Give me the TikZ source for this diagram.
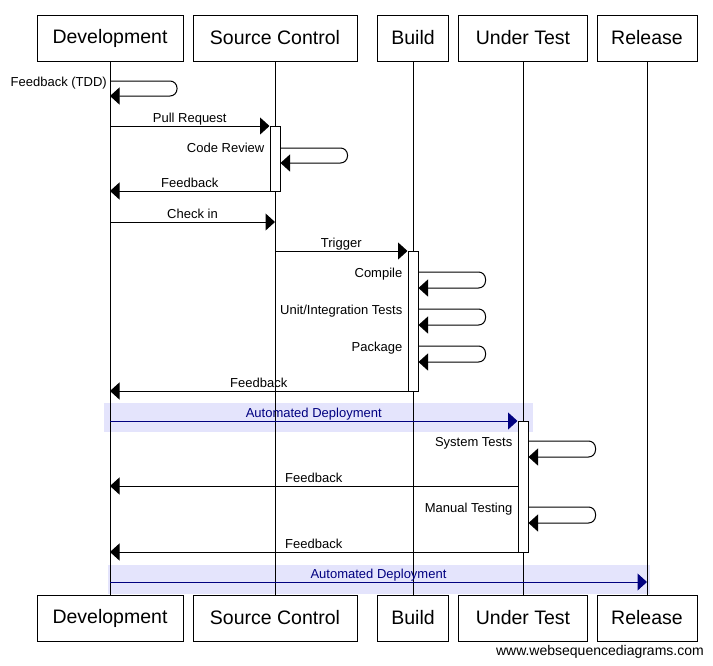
\documentclass[tikz,border=0pt]{standalone}
\usepackage{fontspec}
\setmainfont{Liberation Sans}
\usetikzlibrary{arrows.meta}
\definecolor{hl}{RGB}{228,228,252}
\definecolor{navyc}{RGB}{0,0,128}
\begin{document}
\begin{tikzpicture}[x=1pt,y=-1pt,
  actor/.style={draw,line width=1pt,minimum height=46pt,inner sep=0pt,font=\fontsize{19.5}{23}\selectfont},
  life/.style={line width=1pt},
  msg/.style={line width=1pt,-{Triangle[length=9.5pt,width=17pt]}},
  navymsg/.style={msg,draw=navyc,-{Triangle[length=9.5pt,width=17pt,fill=navyc]}},
  loopmsg/.style={msg,rounded corners=7pt},
  lbl/.style={font=\fontsize{13}{15}\selectfont,inner sep=0pt},
  navylbl/.style={lbl,text=navyc},
  actbar/.style={draw,fill=white,line width=1pt,minimum width=10pt,inner sep=0pt,anchor=north}
]
\useasboundingbox (0,0) rectangle (713,665);
% highlight bands
\fill[hl] (104,403) rectangle (533,432);
\fill[hl] (108,565) rectangle (650,594);
% actors
\node[actor,minimum width=146pt] (devT) at (110,38) {Development};
\node[actor,minimum width=164pt] (scT) at (275,38) {Source Control};
\node[actor,minimum width=71pt] (bT) at (413,38) {Build};
\node[actor,minimum width=129pt] (uT) at (523,38) {Under Test};
\node[actor,minimum width=100pt] (rT) at (647,38) {Release};
\node[actor,minimum width=146pt] (devB) at (110,618) {Development};
\node[actor,minimum width=164pt] (scB) at (275,618) {Source Control};
\node[actor,minimum width=71pt] (bB) at (413,618) {Build};
\node[actor,minimum width=129pt] (uB) at (523,618) {Under Test};
\node[actor,minimum width=100pt] (rB) at (647,618) {Release};
% lifelines
\draw[life] (devT.south) -- (devB.north);
\draw[life] (scT.south) -- (scB.north);
\draw[life] (bT.south) -- (bB.north);
\draw[life] (uT.south) -- (uB.north);
\draw[life] (rT.south) -- (rB.north);
% activation bars
\node[actbar,minimum height=65pt] (scbar) at (275,126) {};
\node[actbar,minimum height=140pt] (bbar) at (413,251) {};
\node[actbar,minimum height=131pt] (ubar) at (523,421) {};
% messages
\draw[loopmsg] (devT.south |- 0,81) -- ++(67,0) |- (devT.south |- 0,96);
\node[lbl,anchor=base east] (l1) at (107,86) {Feedback (TDD)};

\draw[msg] (devT.south |- 0,126) -- (scbar.west |- 0,126)
  node[lbl,midway,anchor=base,yshift=3.5pt] (l2) {Pull Request};

\draw[loopmsg] (scbar.east |- 0,148) -- ++(67,0) |- (scbar.east |- 0,163);
\node[lbl,anchor=base east] (l3) at ([xshift=-5pt]scbar.west |- 0,152) {Code Review};

\draw[msg] (scbar.west |- 0,191) -- (devT.south |- 0,191)
  node[lbl,midway,anchor=base,yshift=3.5pt] (l4) {Feedback};

\draw[msg] (devT.south |- 0,222) -- (scT.south |- 0,222)
  node[lbl,midway,anchor=base,yshift=3.5pt] (l5) {Check in};

\draw[msg] (scT.south |- 0,251) -- (bbar.west |- 0,251)
  node[lbl,midway,anchor=base,yshift=3.5pt] (l6) {Trigger};

\draw[loopmsg] (bbar.east |- 0,272) -- ++(67,0) |- (bbar.east |- 0,288);
\node[lbl,anchor=base east] (l7) at ([xshift=-5pt]bbar.west |- 0,277) {Compile};

\draw[loopmsg] (bbar.east |- 0,309) -- ++(67,0) |- (bbar.east |- 0,325);
\node[lbl,anchor=base east] (l8) at ([xshift=-5pt]bbar.west |- 0,314) {Unit/Integration Tests};

\draw[loopmsg] (bbar.east |- 0,346) -- ++(67,0) |- (bbar.east |- 0,362);
\node[lbl,anchor=base east] (l9) at ([xshift=-5pt]bbar.west |- 0,351) {Package};

\draw[msg] (bbar.west |- 0,391) -- (devT.south |- 0,391)
  node[lbl,midway,anchor=base,yshift=3.5pt] (l10) {Feedback};

\draw[navymsg] (devT.south |- 0,421) -- (ubar.west |- 0,421)
  node[navylbl,midway,anchor=base,yshift=3.5pt] (l11) {Automated Deployment};

\draw[loopmsg] (ubar.east |- 0,441) -- ++(67,0) |- (ubar.east |- 0,457);
\node[lbl,anchor=base east] (l12) at ([xshift=-5pt]ubar.west |- 0,446) {System Tests};

\draw[msg] (ubar.west |- 0,486) -- (devT.south |- 0,486)
  node[lbl,midway,anchor=base,yshift=3.5pt] (l13) {Feedback};

\draw[loopmsg] (ubar.east |- 0,507) -- ++(67,0) |- (ubar.east |- 0,523);
\node[lbl,anchor=base east] (l14) at ([xshift=-5pt]ubar.west |- 0,512) {Manual Testing};

\draw[msg] (ubar.west |- 0,552) -- (devT.south |- 0,552)
  node[lbl,midway,anchor=base,yshift=3.5pt] (l15) {Feedback};

\draw[navymsg] (devT.south |- 0,582) -- (rT.south |- 0,582)
  node[navylbl,midway,anchor=base,yshift=3.5pt] (l16) {Automated Deployment};

\node[anchor=base east,inner sep=0pt,font=\fontsize{14}{16}\selectfont] (wsd) at (704,655) {www.websequencediagrams.com};
\end{tikzpicture}
\end{document}
